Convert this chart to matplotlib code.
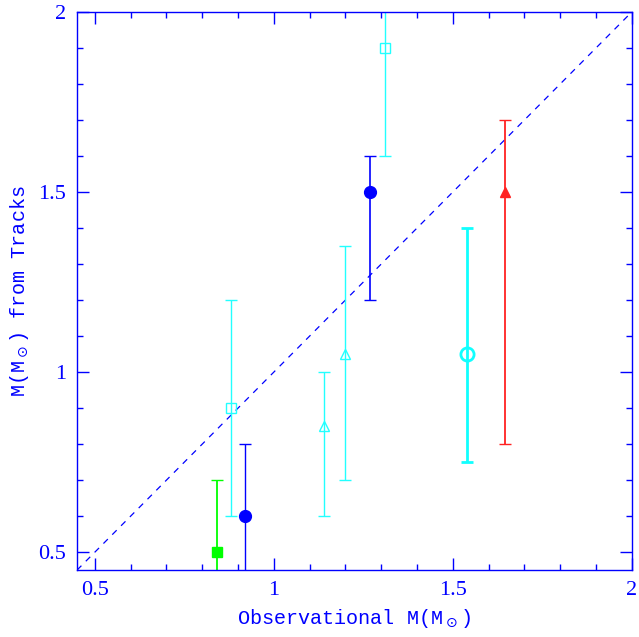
"""Observational mass vs mass from evolutionary tracks."""
import matplotlib
matplotlib.use("Agg")
import matplotlib.pyplot as plt
from matplotlib.ticker import MultipleLocator

BLUE = "#0000ff"

# x, y, lower err, upper err (in mass units)
obs_mass = [0.84, 0.88, 0.92, 1.14, 1.20, 1.27, 1.31, 1.54, 1.645]
track_mass = [0.50, 0.90, 0.60, 0.85, 1.05, 1.50, 1.90, 1.05, 1.50]
err_lo = [0.20, 0.30, 0.20, 0.25, 0.35, 0.30, 0.30, 0.30, 0.70]
err_hi = [0.20, 0.30, 0.20, 0.15, 0.30, 0.10, 0.30, 0.35, 0.20]
colors = ["#00ff00", "#22ffff", BLUE, "#22ffff", "#22ffff", BLUE, "#22ffff", "#11ffff", "#ff2222"]
markers = ["s", "s", "o", "^", "^", "o", "s", "o", "^"]
filled = [True, False, True, False, False, True, False, False, True]
msizes = [6.5, 6.5, 8.5, 7, 7, 8.5, 6.5, 9.5, 7]
lwidths = [1.3, 1.0, 1.0, 1.0, 1.0, 1.2, 1.0, 2.0, 1.3]

fig = plt.figure(figsize=(6.39, 6.37), dpi=100)
ax = fig.add_axes([0.1205, 0.105, 0.868, 0.876])

ax.plot([0.45, 2.0], [0.45, 2.0], color=BLUE, linestyle=(0, (5, 5)), linewidth=0.9)

for i in range(len(obs_mass)):
    c = colors[i]
    ax.errorbar(obs_mass[i], track_mass[i], yerr=[[err_lo[i]], [err_hi[i]]],
                fmt=markers[i], color=c, ecolor=c, elinewidth=lwidths[i],
                capsize=4.3, capthick=lwidths[i], markersize=msizes[i],
                markerfacecolor=c if filled[i] else "none",
                markeredgecolor=c, markeredgewidth=lwidths[i] if not filled[i] else 1.0)

ax.set_xlim(0.45, 2.0)
ax.set_ylim(0.45, 2.0)
ax.xaxis.set_major_locator(MultipleLocator(0.5))
ax.yaxis.set_major_locator(MultipleLocator(0.5))
ax.xaxis.set_minor_locator(MultipleLocator(0.1))
ax.yaxis.set_minor_locator(MultipleLocator(0.1))
ax.xaxis.set_major_formatter(plt.FuncFormatter(lambda v, p: f"{v:g}"))
ax.yaxis.set_major_formatter(plt.FuncFormatter(lambda v, p: f"{v:g}"))

ax.tick_params(which="both", direction="in", top=True, right=True, colors=BLUE,
               labelcolor=BLUE, width=1.0)
ax.tick_params(which="major", length=8.5, labelsize=16, pad=8)
ax.tick_params(which="minor", length=4.3)
for lab in ax.get_xticklabels() + ax.get_yticklabels():
    lab.set_family("Liberation Serif")
for s in ax.spines.values():
    s.set_color(BLUE)
    s.set_linewidth(1.0)

ax.set_xlabel(r"Observational M(M$_\odot$)", color=BLUE, fontsize=14.5,
              family="Liberation Mono", labelpad=5)
ax.set_ylabel(r"M(M$_\odot$) from Tracks", color=BLUE, fontsize=14.5,
              family="Liberation Mono", labelpad=5)

fig.savefig("out.png", dpi=100)
